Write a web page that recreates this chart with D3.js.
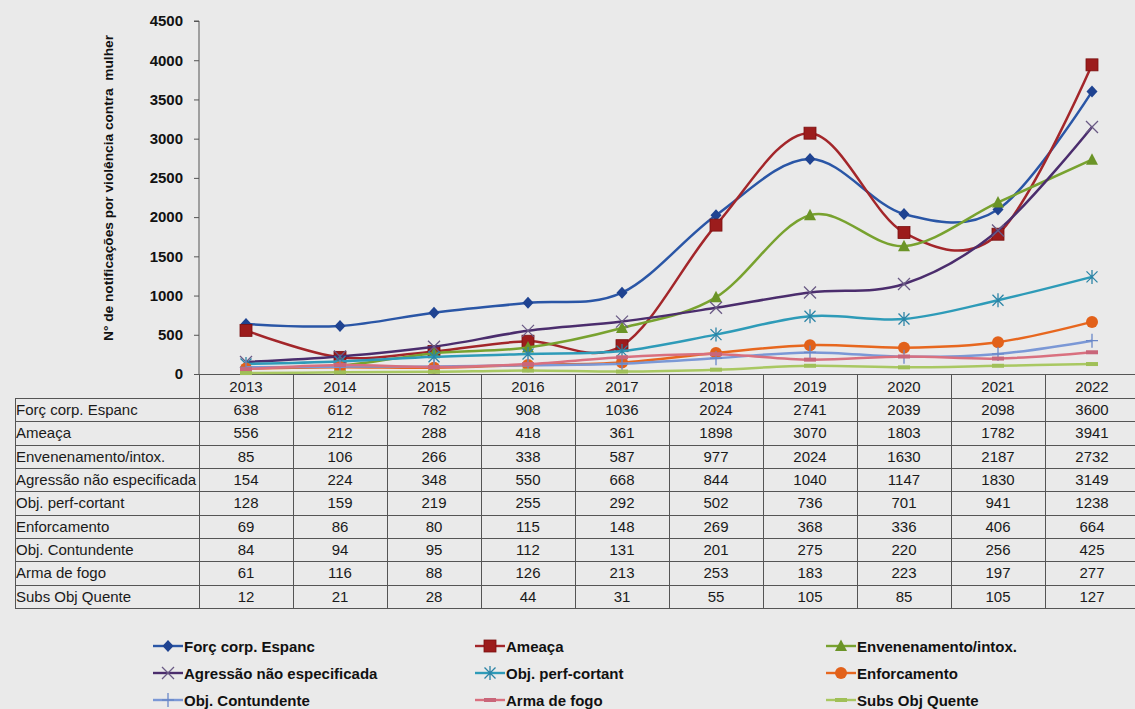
<!DOCTYPE html>
<html>
<head>
<meta charset="utf-8">
<script src="https://cdn.jsdelivr.net/npm/d3@7"></script>
<style>
  html, body { margin: 0; padding: 0; background: #eaeaea; }
  svg { display: block; font-family: Arial, "Liberation Sans", sans-serif; }
</style>
</head>
<body>
<svg id="chart" width="1135" height="709"></svg>
<script>
const years = ["2013","2014","2015","2016","2017","2018","2019","2020","2021","2022"];
const seriesNames = ["Forç corp. Espanc","Ameaça","Envenenamento/intox.","Agressão não especificada","Obj. perf-cortant","Enforcamento","Obj. Contundente","Arma de fogo","Subs Obj Quente"];
const forcCorp     = [638, 612, 782, 908, 1036, 2024, 2741, 2039, 2098, 3600];
const ameaca       = [556, 212, 288, 418, 361, 1898, 3070, 1803, 1782, 3941];
const envenenam    = [85, 106, 266, 338, 587, 977, 2024, 1630, 2187, 2732];
const agressao     = [154, 224, 348, 550, 668, 844, 1040, 1147, 1830, 3149];
const objPerf      = [128, 159, 219, 255, 292, 502, 736, 701, 941, 1238];
const enforcamento = [69, 86, 80, 115, 148, 269, 368, 336, 406, 664];
const objContund   = [84, 94, 95, 112, 131, 201, 275, 220, 256, 425];
const armaFogo     = [61, 116, 88, 126, 213, 253, 183, 223, 197, 277];
const subsQuente   = [12, 21, 28, 44, 31, 55, 105, 85, 105, 127];
const yTicks = [0, 500, 1000, 1500, 2000, 2500, 3000, 3500, 4000, 4500];
const yTitle = "N° de notificações por violência contra  mulher";

const seriesValues = [forcCorp, ameaca, envenenam, agressao, objPerf, enforcamento, objContund, armaFogo, subsQuente];
const styles = [
  {line:"#2a56a6", mk:"#1f4391", shape:"diamond"},
  {line:"#a3262a", mk:"#9c1c1c", shape:"square"},
  {line:"#78a22f", mk:"#6b9427", shape:"triangle"},
  {line:"#4b2d6d", mk:"#6a5a85", shape:"x"},
  {line:"#2e9bb8", mk:"#2c84a6", shape:"star"},
  {line:"#e7671f", mk:"#e2611a", shape:"circle"},
  {line:"#7b98d6", mk:"#6a88c8", shape:"plus"},
  {line:"#d9707f", mk:"#c9667a", shape:"dash"},
  {line:"#a9c862", mk:"#a0c058", shape:"dash"}
];
const series = seriesNames.map((n, i) => ({name: n, values: seriesValues[i], style: styles[i]}));

const svg = d3.select("#chart");
const plotLeft = 199, plotRight = 1139, plotTop = 21, plotBottom = 374;
const tableLeft = 15, headerBottom = 398, rowH = 23.33;
const tableBottom = headerBottom + rowH * series.length;

const x = d3.scaleBand().domain(years).range([plotLeft, plotRight]);
const cx = d => x(d) + x.bandwidth() / 2;
const y = d3.scaleLinear().domain([0, 4500]).range([plotBottom, plotTop]);

const gridColor = "#555";

// Y axis
const yAxis = d3.axisLeft(y).tickValues(yTicks).tickSize(5).tickPadding(11).tickFormat(d3.format("d"));
const gy = svg.append("g").attr("transform", `translate(${plotLeft},0)`).call(yAxis);
gy.select(".domain").attr("stroke", gridColor).attr("d", `M-5,${plotTop}H0V${plotBottom}`);
gy.selectAll(".tick line").attr("stroke", gridColor);
gy.selectAll(".tick text").attr("font-size", 15).attr("font-weight", "bold").attr("fill", "#111")
  .attr("font-family", "Arial, 'Liberation Sans', sans-serif");

// Y title
svg.append("text")
  .attr("transform", `translate(113,188) rotate(-90)`)
  .attr("text-anchor", "middle")
  .attr("font-size", 13.7).attr("font-weight", "bold").attr("fill", "#111")
  .attr("xml:space", "preserve")
  .style("white-space", "pre")
  .text(yTitle);

// X axis line + table grid
const grid = svg.append("g").attr("stroke", gridColor).attr("stroke-width", 1).attr("fill", "none");
grid.append("line").attr("x1", plotLeft - 5).attr("x2", plotRight).attr("y1", plotBottom + 0.5).attr("y2", plotBottom + 0.5);
grid.append("line").attr("x1", plotLeft + 0.5).attr("x2", plotLeft + 0.5).attr("y1", plotBottom).attr("y2", tableBottom);
years.forEach((yr, i) => {
  if (i === 0) return;
  const bx = Math.round(x(yr)) + 0.5;
  grid.append("line").attr("x1", bx).attr("x2", bx).attr("y1", plotBottom).attr("y2", tableBottom);
});
for (let r = 0; r <= series.length; r++) {
  const yy = Math.round(headerBottom + r * rowH) + 0.5;
  grid.append("line").attr("x1", tableLeft).attr("x2", plotRight).attr("y1", yy).attr("y2", yy);
}
grid.append("line").attr("x1", tableLeft + 0.5).attr("x2", tableLeft + 0.5).attr("y1", headerBottom).attr("y2", tableBottom);

// Table text
const tt = svg.append("g").attr("font-size", 15).attr("fill", "#1a1a1a");
years.forEach(yr => {
  tt.append("text").attr("x", cx(yr)).attr("y", (plotBottom + headerBottom) / 2 + 5.5)
    .attr("text-anchor", "middle").text(yr);
});
series.forEach((s, r) => {
  const my = headerBottom + r * rowH + rowH / 2 + 5.5;
  tt.append("text").attr("x", tableLeft + 1).attr("y", my).text(s.name);
  s.values.forEach((v, i) => {
    tt.append("text").attr("x", cx(years[i])).attr("y", my).attr("text-anchor", "middle").text(v);
  });
});

// Markers
function drawMarker(g, shape, px, py, color, lineColor) {
  switch (shape) {
    case "diamond":
      g.append("path").attr("d", `M${px},${py-6}L${px+5.5},${py}L${px},${py+6}L${px-5.5},${py}Z`).attr("fill", color);
      break;
    case "square":
      g.append("rect").attr("x", px-6).attr("y", py-6).attr("width", 12).attr("height", 12).attr("fill", color)
        .attr("stroke", "#7a1010").attr("stroke-width", 0.8);
      break;
    case "triangle":
      g.append("path").attr("d", `M${px},${py-6.5}L${px+6},${py+5}L${px-6},${py+5}Z`).attr("fill", color);
      break;
    case "x":
      g.append("path").attr("d", `M${px-6},${py-6}L${px+6},${py+6}M${px-6},${py+6}L${px+6},${py-6}`)
        .attr("stroke", color).attr("stroke-width", 1.3).attr("fill", "none");
      break;
    case "star":
      g.append("path").attr("d", `M${px-5.5},${py-5.5}L${px+5.5},${py+5.5}M${px-5.5},${py+5.5}L${px+5.5},${py-5.5}M${px},${py-7}L${px},${py+7}`)
        .attr("stroke", color).attr("stroke-width", 1.3).attr("fill", "none");
      break;
    case "circle":
      g.append("circle").attr("cx", px).attr("cy", py).attr("r", 6).attr("fill", color);
      break;
    case "plus":
      g.append("path").attr("d", `M${px-6},${py}L${px+6},${py}M${px},${py-7}L${px},${py+7}`)
        .attr("stroke", color).attr("stroke-width", 1.3).attr("fill", "none");
      break;
    case "dash":
      g.append("path").attr("d", `M${px-6},${py}L${px+6},${py}`)
        .attr("stroke", color).attr("stroke-width", 4).attr("fill", "none");
      break;
  }
}

// Lines
const lineGen = d3.line().x((d, i) => cx(years[i])).y(d => y(d)).curve(d3.curveCardinal.tension(0));
const plot = svg.append("g");
series.forEach(s => {
  const g = plot.append("g");
  g.append("path").attr("d", lineGen(s.values)).attr("fill", "none")
    .attr("stroke", s.style.line).attr("stroke-width", 2.5).attr("stroke-linejoin", "round");
  s.values.forEach((v, i) => drawMarker(g, s.style.shape, cx(years[i]), y(v), s.style.mk, s.style.line));
});

// Legend
const legCols = [153, 475, 826];
const legRows = [646, 673, 700];
const leg = svg.append("g");
series.forEach((s, i) => {
  const lx = legCols[i % 3], ly = legRows[Math.floor(i / 3)];
  const g = leg.append("g");
  g.append("line").attr("x1", lx).attr("x2", lx + 30).attr("y1", ly).attr("y2", ly)
    .attr("stroke", s.style.line).attr("stroke-width", 2.4);
  drawMarker(g, s.style.shape, lx + 15, ly, s.style.mk, s.style.line);
  g.append("text").attr("x", lx + 31).attr("y", ly + 5.5).attr("font-size", 15).attr("font-weight", "bold")
    .attr("fill", "#111").text(s.name);
});
</script>
</body>
</html>
